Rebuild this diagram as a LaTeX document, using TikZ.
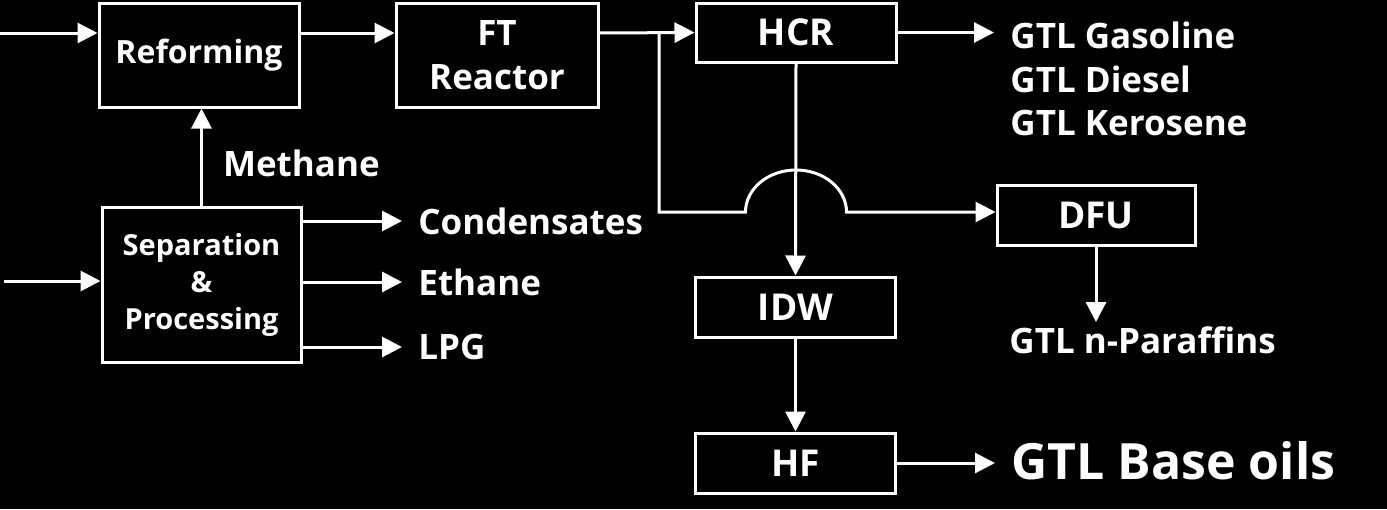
\documentclass[tikz,border=0pt]{standalone}
\usepackage{fontspec}
\setmainfont{Open Sans}
\usetikzlibrary{arrows.meta}

\begin{document}
\begin{tikzpicture}[x=0.5pt,y=-0.5pt,
    unit/.style={draw=white, fill=black, line width=1.5pt, text=white, align=center,
        font=\fontsize{18.5pt}{22pt}\selectfont\bfseries, minimum width=100pt, minimum height=30pt},
    prod/.style={text=white, font=\fontsize{17.5pt}{22pt}\selectfont\bfseries, inner xsep=8pt, inner ysep=2pt},
    flow/.style={draw=white, line width=1.5pt, -{Triangle[length=10pt,width=10pt]}}]

    \path[fill=black, use as bounding box] (0,0) rectangle (1387,509);

    % units
    \node[unit, minimum height=52pt, font=\fontsize{16pt}{22pt}\selectfont\bfseries] (reform) at (199,55) {Reforming};
    \node[unit, minimum width=101pt, minimum height=52pt, font=\fontsize{17.5pt}{22pt}\selectfont\bfseries] (ft) at (497,55) {FT\\Reactor};
    \node[unit, minimum height=29.5pt] (hcr) at (796,32.5) {HCR};
    \node[unit, minimum width=99.5pt, minimum height=77.5pt,
        font=\fontsize{14.5pt}{18.5pt}\selectfont\bfseries] (sep) at (201.5,284.5) {Separation\\\&\\Processing};
    \node[unit] (idw) at (795.5,307) {IDW};
    \node[unit] (hf) at (795.5,463) {HF};
    \node[unit, minimum width=99pt] (dfu) at (1096,215.5) {DFU};

    % products
    \node[prod, anchor=west] (cond) at (402,221) {Condensates};
    \node[prod, anchor=west] (ethane) at (402,282) {Ethane};
    \node[prod, anchor=west] (lpg) at (402,347) {LPG};
    \node[prod, anchor=west] (gasoline) at (994,35) {GTL Gasoline};
    \node[prod, anchor=west] (diesel) at (994,79) {GTL Diesel};
    \node[prod, anchor=west] (kerosene) at (994,123) {GTL Kerosene};
    \node[prod, anchor=north west] (paraffin) at (993,322) {GTL n-Paraffins};
    \node[prod, anchor=west, font=\fontsize{25pt}{30pt}\selectfont\bfseries] (baseoil) at (995,461) {GTL Base oils};

    \coordinate (feedA) at (0,33);
    \coordinate (feedB) at (4,281);
    \coordinate (split) at (659,33);
    \coordinate (bend) at (659,212);
    \coordinate (cross) at (hcr.south |- bend);

    % streams
    \draw[flow] (feedA) -- (reform.west |- feedA);
    \draw[flow] (reform.east |- feedA) -- (ft.west |- feedA);
    \draw[flow] (ft.east |- feedA) -- (hcr.west);
    \draw[flow] (hcr.east) -- (hcr.east -| gasoline.west);
    \draw[flow] (feedB) -- (sep.west |- feedB);
    \draw[flow] (sep.north) -- node[prod, right, pos=0.43, xshift=2pt] (methane) {Methane} (sep.north |- reform.south);
    \foreach \lbl in {cond,ethane,lpg}
        \draw[flow] (sep.east |- \lbl.west) -- (\lbl.west);
    \draw[flow] (hcr.south) -- (idw.north);
    \draw[flow] (idw.south) -- (hf.north);
    \draw[flow] (hf.east) -- (hf.east -| baseoil.west);
    \draw[flow] (dfu.south) -- (dfu.south |- paraffin.north);

    % bypass hopping over the HCR line
    \draw[flow] (split) -- (bend) -- ([xshift=-25.25pt]cross)
        arc[start angle=180, end angle=0, x radius=25.25pt, y radius=21pt] -- (dfu.west |- bend);

\end{tikzpicture}
\end{document}
